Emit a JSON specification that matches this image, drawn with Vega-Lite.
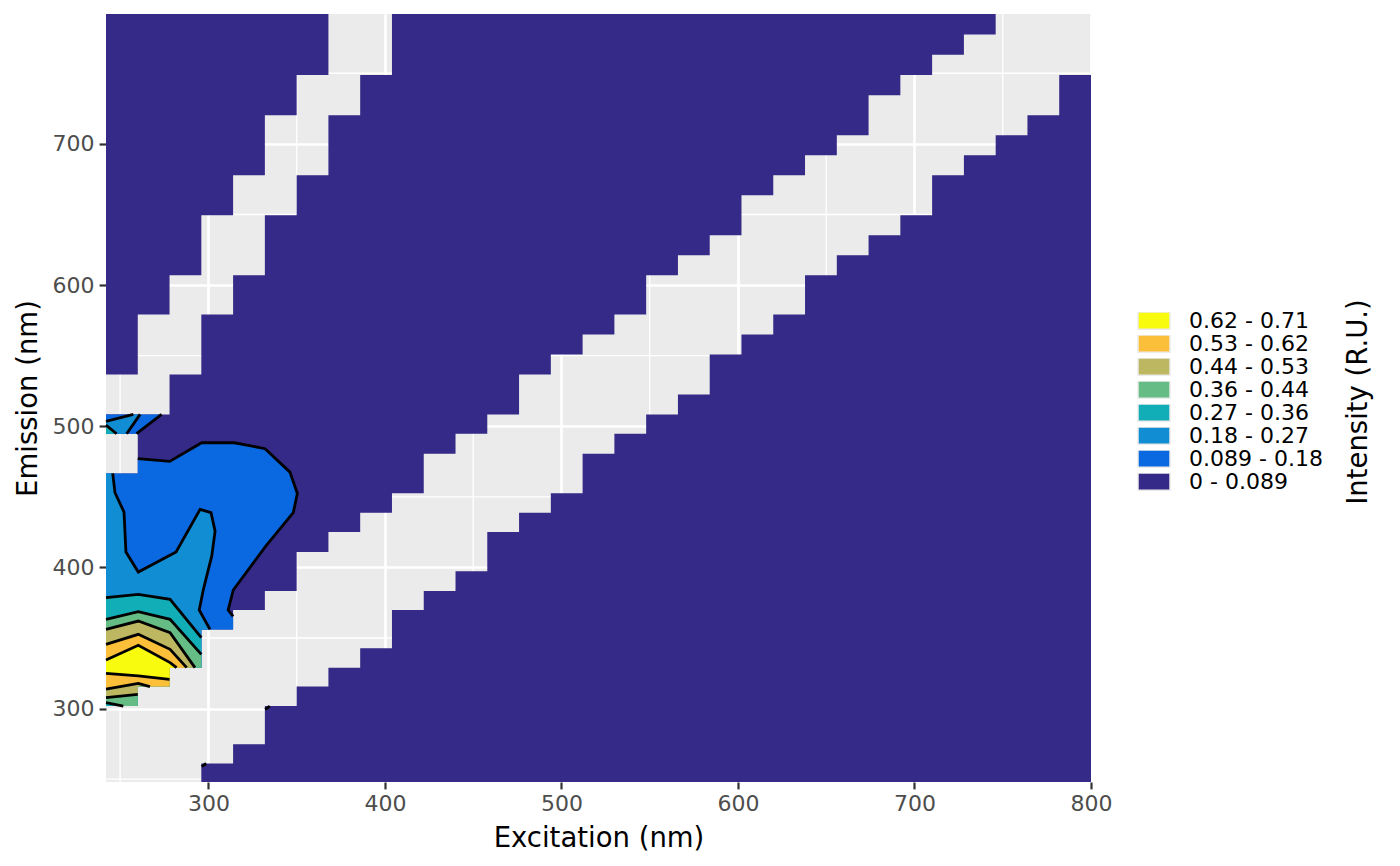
{
  "$schema": "https://vega.github.io/schema/vega-lite/v6.json",
  "width": 985,
  "height": 768,
  "autosize": {"type": "none"},
  "padding": {"left": 106, "top": 14, "right": 309, "bottom": 84},
  "background": "white",
  "config": {
    "view": {"fill": "#EBEBEB", "stroke": null},
    "axis": {
      "domain": false,
      "grid": true,
      "gridColor": "white",
      "gridWidth": 2.7,
      "tickColor": "#333333",
      "tickWidth": 2.2,
      "tickSize": 6.9,
      "labelFont": "DejaVu Sans",
      "labelFontSize": 22,
      "labelColor": "#4D4D4D",
      "labelPadding": 5,
      "labelFlush": false,
      "labelOverlap": false,
      "titleFont": "DejaVu Sans",
      "titleFontSize": 27.5,
      "titleFontWeight": "normal",
      "titleColor": "black",
      "titlePadding": 10
    },
    "axisY": {"titlePadding": 10},
    "legend": {
      "labelFont": "DejaVu Sans",
      "labelFontSize": 22,
      "labelColor": "black",
      "titleFont": "DejaVu Sans",
      "titleFontSize": 27.5,
      "titleFontWeight": "normal",
      "titleColor": "black",
      "titleLimit": 500
    }
  },
  "datasets": {
    "gridx": [{"v": 250}, {"v": 350}, {"v": 450}, {"v": 550}, {"v": 650}, {"v": 750}],
    "gridy": [{"v": 250}, {"v": 350}, {"v": 450}, {"v": 550}, {"v": 650}, {"v": 750}],
    "regions": [
      {"region": "A", "x": 242, "lo": 536.7, "hi": 792, "level": "0 - 0.089"},
      {"region": "A", "x": 260, "lo": 579.2, "hi": 792, "level": "0 - 0.089"},
      {"region": "A", "x": 278, "lo": 607, "hi": 792, "level": "0 - 0.089"},
      {"region": "A", "x": 296, "lo": 649.5, "hi": 792, "level": "0 - 0.089"},
      {"region": "A", "x": 314, "lo": 677.8, "hi": 792, "level": "0 - 0.089"},
      {"region": "A", "x": 332, "lo": 720.2, "hi": 792, "level": "0 - 0.089"},
      {"region": "A", "x": 350, "lo": 748.8, "hi": 792, "level": "0 - 0.089"},
      {"region": "A", "x": 368, "lo": 748.8, "hi": 792, "level": "0 - 0.089"},
      {"region": "B0", "x": 242, "lo": 494.7, "hi": 508.4, "level": "0 - 0.089"},
      {"region": "B0", "x": 260, "lo": 494.7, "hi": 508.4, "level": "0 - 0.089"},
      {"region": "B", "x": 242, "lo": 301.8, "hi": 466.6, "level": "0 - 0.089"},
      {"region": "B", "x": 260, "lo": 315.6, "hi": 508.4, "level": "0 - 0.089"},
      {"region": "B", "x": 278, "lo": 329, "hi": 536.7, "level": "0 - 0.089"},
      {"region": "B", "x": 296, "lo": 356.1, "hi": 579.2, "level": "0 - 0.089"},
      {"region": "B", "x": 314, "lo": 369.8, "hi": 607, "level": "0 - 0.089"},
      {"region": "B", "x": 332, "lo": 383.3, "hi": 649.5, "level": "0 - 0.089"},
      {"region": "B", "x": 350, "lo": 410.9, "hi": 677.8, "level": "0 - 0.089"},
      {"region": "B", "x": 368, "lo": 425, "hi": 720.2, "level": "0 - 0.089"},
      {"region": "B", "x": 386, "lo": 438.8, "hi": 748.8, "level": "0 - 0.089"},
      {"region": "B", "x": 404, "lo": 452.6, "hi": 792, "level": "0 - 0.089"},
      {"region": "B", "x": 422, "lo": 480.5, "hi": 792, "level": "0 - 0.089"},
      {"region": "B", "x": 440, "lo": 494.7, "hi": 792, "level": "0 - 0.089"},
      {"region": "B", "x": 458, "lo": 508.4, "hi": 792, "level": "0 - 0.089"},
      {"region": "B", "x": 476, "lo": 536.7, "hi": 792, "level": "0 - 0.089"},
      {"region": "B", "x": 494, "lo": 550.8, "hi": 792, "level": "0 - 0.089"},
      {"region": "B", "x": 512, "lo": 565, "hi": 792, "level": "0 - 0.089"},
      {"region": "B", "x": 530, "lo": 579.2, "hi": 792, "level": "0 - 0.089"},
      {"region": "B", "x": 548, "lo": 607, "hi": 792, "level": "0 - 0.089"},
      {"region": "B", "x": 566, "lo": 621.1, "hi": 792, "level": "0 - 0.089"},
      {"region": "B", "x": 584, "lo": 635.3, "hi": 792, "level": "0 - 0.089"},
      {"region": "B", "x": 602, "lo": 663.6, "hi": 792, "level": "0 - 0.089"},
      {"region": "B", "x": 620, "lo": 677.8, "hi": 792, "level": "0 - 0.089"},
      {"region": "B", "x": 638, "lo": 691.9, "hi": 792, "level": "0 - 0.089"},
      {"region": "B", "x": 656, "lo": 706.1, "hi": 792, "level": "0 - 0.089"},
      {"region": "B", "x": 674, "lo": 734.4, "hi": 792, "level": "0 - 0.089"},
      {"region": "B", "x": 692, "lo": 748.8, "hi": 792, "level": "0 - 0.089"},
      {"region": "B", "x": 710, "lo": 763.2, "hi": 792, "level": "0 - 0.089"},
      {"region": "B", "x": 728, "lo": 777.4, "hi": 792, "level": "0 - 0.089"},
      {"region": "B", "x": 746, "lo": 777.4, "hi": 792, "level": "0 - 0.089"},
      {"region": "C", "x": 296, "lo": 248, "hi": 261.1, "level": "0 - 0.089"},
      {"region": "C", "x": 314, "lo": 248, "hi": 274.7, "level": "0 - 0.089"},
      {"region": "C", "x": 332, "lo": 248, "hi": 301.8, "level": "0 - 0.089"},
      {"region": "C", "x": 350, "lo": 248, "hi": 315.6, "level": "0 - 0.089"},
      {"region": "C", "x": 368, "lo": 248, "hi": 329, "level": "0 - 0.089"},
      {"region": "C", "x": 386, "lo": 248, "hi": 342.7, "level": "0 - 0.089"},
      {"region": "C", "x": 404, "lo": 248, "hi": 369.8, "level": "0 - 0.089"},
      {"region": "C", "x": 422, "lo": 248, "hi": 383.3, "level": "0 - 0.089"},
      {"region": "C", "x": 440, "lo": 248, "hi": 397.2, "level": "0 - 0.089"},
      {"region": "C", "x": 458, "lo": 248, "hi": 425, "level": "0 - 0.089"},
      {"region": "C", "x": 476, "lo": 248, "hi": 438.8, "level": "0 - 0.089"},
      {"region": "C", "x": 494, "lo": 248, "hi": 452.6, "level": "0 - 0.089"},
      {"region": "C", "x": 512, "lo": 248, "hi": 480.5, "level": "0 - 0.089"},
      {"region": "C", "x": 530, "lo": 248, "hi": 494.7, "level": "0 - 0.089"},
      {"region": "C", "x": 548, "lo": 248, "hi": 508.4, "level": "0 - 0.089"},
      {"region": "C", "x": 566, "lo": 248, "hi": 522.5, "level": "0 - 0.089"},
      {"region": "C", "x": 584, "lo": 248, "hi": 550.8, "level": "0 - 0.089"},
      {"region": "C", "x": 602, "lo": 248, "hi": 565, "level": "0 - 0.089"},
      {"region": "C", "x": 620, "lo": 248, "hi": 579.2, "level": "0 - 0.089"},
      {"region": "C", "x": 638, "lo": 248, "hi": 607, "level": "0 - 0.089"},
      {"region": "C", "x": 656, "lo": 248, "hi": 621.1, "level": "0 - 0.089"},
      {"region": "C", "x": 674, "lo": 248, "hi": 635.3, "level": "0 - 0.089"},
      {"region": "C", "x": 692, "lo": 248, "hi": 649.5, "level": "0 - 0.089"},
      {"region": "C", "x": 710, "lo": 248, "hi": 677.8, "level": "0 - 0.089"},
      {"region": "C", "x": 728, "lo": 248, "hi": 691.9, "level": "0 - 0.089"},
      {"region": "C", "x": 746, "lo": 248, "hi": 706.1, "level": "0 - 0.089"},
      {"region": "C", "x": 764, "lo": 248, "hi": 720.2, "level": "0 - 0.089"},
      {"region": "C", "x": 782, "lo": 248, "hi": 748.8, "level": "0 - 0.089"},
      {"region": "C", "x": 800, "lo": 248, "hi": 748.8, "level": "0 - 0.089"}
    ],
    "polys": [
      {"poly": "p1", "level": "0.089 - 0.18", "i": 0, "ex": 260, "em": 477},
      {"poly": "p1", "level": "0.089 - 0.18", "i": 1, "ex": 278.1, "em": 475.1},
      {"poly": "p1", "level": "0.089 - 0.18", "i": 2, "ex": 296.2, "em": 488.3},
      {"poly": "p1", "level": "0.089 - 0.18", "i": 3, "ex": 314.7, "em": 488.3},
      {"poly": "p1", "level": "0.089 - 0.18", "i": 4, "ex": 332.1, "em": 484.1},
      {"poly": "p1", "level": "0.089 - 0.18", "i": 5, "ex": 346.2, "em": 467.5},
      {"poly": "p1", "level": "0.089 - 0.18", "i": 6, "ex": 350.4, "em": 452.4},
      {"poly": "p1", "level": "0.089 - 0.18", "i": 7, "ex": 348.1, "em": 438.8},
      {"poly": "p1", "level": "0.089 - 0.18", "i": 8, "ex": 332.5, "em": 415.1},
      {"poly": "p1", "level": "0.089 - 0.18", "i": 9, "ex": 314.1, "em": 384},
      {"poly": "p1", "level": "0.089 - 0.18", "i": 10, "ex": 311.2, "em": 369.8},
      {"poly": "p1", "level": "0.089 - 0.18", "i": 11, "ex": 314, "em": 365.3},
      {"poly": "p1", "level": "0.089 - 0.18", "i": 12, "ex": 314, "em": 356.1},
      {"poly": "p1", "level": "0.089 - 0.18", "i": 13, "ex": 296, "em": 356.1},
      {"poly": "p1", "level": "0.089 - 0.18", "i": 14, "ex": 296, "em": 329},
      {"poly": "p1", "level": "0.089 - 0.18", "i": 15, "ex": 278, "em": 329},
      {"poly": "p1", "level": "0.089 - 0.18", "i": 16, "ex": 278, "em": 315.6},
      {"poly": "p1", "level": "0.089 - 0.18", "i": 17, "ex": 260, "em": 315.6},
      {"poly": "p1", "level": "0.089 - 0.18", "i": 18, "ex": 260, "em": 301.8},
      {"poly": "p1", "level": "0.089 - 0.18", "i": 19, "ex": 242, "em": 301.8},
      {"poly": "p1", "level": "0.089 - 0.18", "i": 20, "ex": 242, "em": 466.6},
      {"poly": "p1", "level": "0.089 - 0.18", "i": 21, "ex": 260, "em": 466.6},
      {"poly": "p2", "level": "0.18 - 0.27", "i": 0, "ex": 245.8, "em": 466.6},
      {"poly": "p2", "level": "0.18 - 0.27", "i": 1, "ex": 247.1, "em": 452.9},
      {"poly": "p2", "level": "0.18 - 0.27", "i": 2, "ex": 252.2, "em": 439.2},
      {"poly": "p2", "level": "0.18 - 0.27", "i": 3, "ex": 253.3, "em": 410.9},
      {"poly": "p2", "level": "0.18 - 0.27", "i": 4, "ex": 260.3, "em": 396.7},
      {"poly": "p2", "level": "0.18 - 0.27", "i": 5, "ex": 281.7, "em": 410.9},
      {"poly": "p2", "level": "0.18 - 0.27", "i": 6, "ex": 295.3, "em": 441.1},
      {"poly": "p2", "level": "0.18 - 0.27", "i": 7, "ex": 301.5, "em": 438.8},
      {"poly": "p2", "level": "0.18 - 0.27", "i": 8, "ex": 303.8, "em": 425.7},
      {"poly": "p2", "level": "0.18 - 0.27", "i": 9, "ex": 301.9, "em": 408},
      {"poly": "p2", "level": "0.18 - 0.27", "i": 10, "ex": 300, "em": 398.6},
      {"poly": "p2", "level": "0.18 - 0.27", "i": 11, "ex": 297.1, "em": 384},
      {"poly": "p2", "level": "0.18 - 0.27", "i": 12, "ex": 294.8, "em": 369.8},
      {"poly": "p2", "level": "0.18 - 0.27", "i": 13, "ex": 300.9, "em": 356.1},
      {"poly": "p2", "level": "0.18 - 0.27", "i": 14, "ex": 296, "em": 356.1},
      {"poly": "p2", "level": "0.18 - 0.27", "i": 15, "ex": 296, "em": 329},
      {"poly": "p2", "level": "0.18 - 0.27", "i": 16, "ex": 278, "em": 329},
      {"poly": "p2", "level": "0.18 - 0.27", "i": 17, "ex": 278, "em": 315.6},
      {"poly": "p2", "level": "0.18 - 0.27", "i": 18, "ex": 260, "em": 315.6},
      {"poly": "p2", "level": "0.18 - 0.27", "i": 19, "ex": 260, "em": 301.8},
      {"poly": "p2", "level": "0.18 - 0.27", "i": 20, "ex": 242, "em": 301.8},
      {"poly": "p2", "level": "0.18 - 0.27", "i": 21, "ex": 242, "em": 466.6},
      {"poly": "p3", "level": "0.27 - 0.36", "i": 0, "ex": 242, "em": 378.6},
      {"poly": "p3", "level": "0.27 - 0.36", "i": 1, "ex": 260.3, "em": 380.9},
      {"poly": "p3", "level": "0.27 - 0.36", "i": 2, "ex": 278.3, "em": 377.4},
      {"poly": "p3", "level": "0.27 - 0.36", "i": 3, "ex": 296, "em": 350.3},
      {"poly": "p3", "level": "0.27 - 0.36", "i": 4, "ex": 296, "em": 329},
      {"poly": "p3", "level": "0.27 - 0.36", "i": 5, "ex": 278, "em": 329},
      {"poly": "p3", "level": "0.27 - 0.36", "i": 6, "ex": 278, "em": 315.6},
      {"poly": "p3", "level": "0.27 - 0.36", "i": 7, "ex": 260, "em": 315.6},
      {"poly": "p3", "level": "0.27 - 0.36", "i": 8, "ex": 260, "em": 301.8},
      {"poly": "p3", "level": "0.27 - 0.36", "i": 9, "ex": 242, "em": 301.8},
      {"poly": "p4", "level": "0.36 - 0.44", "i": 0, "ex": 242, "em": 363.2},
      {"poly": "p4", "level": "0.36 - 0.44", "i": 1, "ex": 260.3, "em": 368.7},
      {"poly": "p4", "level": "0.36 - 0.44", "i": 2, "ex": 278.3, "em": 363.2},
      {"poly": "p4", "level": "0.36 - 0.44", "i": 3, "ex": 296, "em": 338.4},
      {"poly": "p4", "level": "0.36 - 0.44", "i": 4, "ex": 296, "em": 329},
      {"poly": "p4", "level": "0.36 - 0.44", "i": 5, "ex": 278, "em": 329},
      {"poly": "p4", "level": "0.36 - 0.44", "i": 6, "ex": 278, "em": 315.6},
      {"poly": "p4", "level": "0.36 - 0.44", "i": 7, "ex": 260, "em": 315.6},
      {"poly": "p4", "level": "0.36 - 0.44", "i": 8, "ex": 260, "em": 301.8},
      {"poly": "p4", "level": "0.36 - 0.44", "i": 9, "ex": 251.8, "em": 301.8},
      {"poly": "p4", "level": "0.36 - 0.44", "i": 10, "ex": 242, "em": 304.2},
      {"poly": "p5", "level": "0.44 - 0.53", "i": 0, "ex": 242, "em": 356.1},
      {"poly": "p5", "level": "0.44 - 0.53", "i": 1, "ex": 260.3, "em": 362},
      {"poly": "p5", "level": "0.44 - 0.53", "i": 2, "ex": 278.3, "em": 353.8},
      {"poly": "p5", "level": "0.44 - 0.53", "i": 3, "ex": 292.4, "em": 329},
      {"poly": "p5", "level": "0.44 - 0.53", "i": 4, "ex": 278, "em": 329},
      {"poly": "p5", "level": "0.44 - 0.53", "i": 5, "ex": 278, "em": 315.6},
      {"poly": "p5", "level": "0.44 - 0.53", "i": 6, "ex": 260, "em": 315.6},
      {"poly": "p5", "level": "0.44 - 0.53", "i": 7, "ex": 260, "em": 310.1},
      {"poly": "p5", "level": "0.44 - 0.53", "i": 8, "ex": 242, "em": 307.8},
      {"poly": "p6", "level": "0.53 - 0.62", "i": 0, "ex": 242, "em": 345.5},
      {"poly": "p6", "level": "0.53 - 0.62", "i": 1, "ex": 260.3, "em": 352.6},
      {"poly": "p6", "level": "0.53 - 0.62", "i": 2, "ex": 278.3, "em": 342},
      {"poly": "p6", "level": "0.53 - 0.62", "i": 3, "ex": 287.7, "em": 329},
      {"poly": "p6", "level": "0.53 - 0.62", "i": 4, "ex": 278, "em": 329},
      {"poly": "p6", "level": "0.53 - 0.62", "i": 5, "ex": 278, "em": 315.6},
      {"poly": "p6", "level": "0.53 - 0.62", "i": 6, "ex": 266.9, "em": 315.6},
      {"poly": "p6", "level": "0.53 - 0.62", "i": 7, "ex": 260.3, "em": 317.9},
      {"poly": "p6", "level": "0.53 - 0.62", "i": 8, "ex": 242, "em": 313.7},
      {"poly": "p7", "level": "0.62 - 0.71", "i": 0, "ex": 242, "em": 334.4},
      {"poly": "p7", "level": "0.62 - 0.71", "i": 1, "ex": 260.3, "em": 344.8},
      {"poly": "p7", "level": "0.62 - 0.71", "i": 2, "ex": 278.3, "em": 332.6},
      {"poly": "p7", "level": "0.62 - 0.71", "i": 3, "ex": 282, "em": 329},
      {"poly": "p7", "level": "0.62 - 0.71", "i": 4, "ex": 278, "em": 329},
      {"poly": "p7", "level": "0.62 - 0.71", "i": 5, "ex": 278, "em": 320.7},
      {"poly": "p7", "level": "0.62 - 0.71", "i": 6, "ex": 260.3, "em": 323.1},
      {"poly": "p7", "level": "0.62 - 0.71", "i": 7, "ex": 242, "em": 325},
      {"poly": "p8", "level": "0.089 - 0.18", "i": 0, "ex": 242, "em": 494.7},
      {"poly": "p8", "level": "0.089 - 0.18", "i": 1, "ex": 259.3, "em": 494.7},
      {"poly": "p8", "level": "0.089 - 0.18", "i": 2, "ex": 273.5, "em": 508.4},
      {"poly": "p8", "level": "0.089 - 0.18", "i": 3, "ex": 242, "em": 508.4},
      {"poly": "p9", "level": "0.18 - 0.27", "i": 0, "ex": 242, "em": 494.7},
      {"poly": "p9", "level": "0.18 - 0.27", "i": 1, "ex": 253.7, "em": 494.7},
      {"poly": "p9", "level": "0.18 - 0.27", "i": 2, "ex": 261.3, "em": 508.4},
      {"poly": "p9", "level": "0.18 - 0.27", "i": 3, "ex": 257.5, "em": 508.4},
      {"poly": "p9", "level": "0.18 - 0.27", "i": 4, "ex": 242, "em": 503.5},
      {"poly": "pa", "level": "0.27 - 0.36", "i": 0, "ex": 242, "em": 494.7},
      {"poly": "pa", "level": "0.27 - 0.36", "i": 1, "ex": 248, "em": 494.7},
      {"poly": "pa", "level": "0.27 - 0.36", "i": 2, "ex": 242, "em": 500.8}
    ],
    "lines": [
      {"line": "L1", "i": 0, "ex": 260, "em": 477},
      {"line": "L1", "i": 1, "ex": 278.1, "em": 475.1},
      {"line": "L1", "i": 2, "ex": 296.2, "em": 488.3},
      {"line": "L1", "i": 3, "ex": 314.7, "em": 488.3},
      {"line": "L1", "i": 4, "ex": 332.1, "em": 484.1},
      {"line": "L1", "i": 5, "ex": 346.2, "em": 467.5},
      {"line": "L1", "i": 6, "ex": 350.4, "em": 452.4},
      {"line": "L1", "i": 7, "ex": 348.1, "em": 438.8},
      {"line": "L1", "i": 8, "ex": 332.5, "em": 415.1},
      {"line": "L1", "i": 9, "ex": 314.1, "em": 384},
      {"line": "L1", "i": 10, "ex": 311.2, "em": 369.8},
      {"line": "L1", "i": 11, "ex": 314, "em": 365.3},
      {"line": "L2", "i": 0, "ex": 245.8, "em": 466.6},
      {"line": "L2", "i": 1, "ex": 247.1, "em": 452.9},
      {"line": "L2", "i": 2, "ex": 252.2, "em": 439.2},
      {"line": "L2", "i": 3, "ex": 253.3, "em": 410.9},
      {"line": "L2", "i": 4, "ex": 260.3, "em": 396.7},
      {"line": "L2", "i": 5, "ex": 281.7, "em": 410.9},
      {"line": "L2", "i": 6, "ex": 295.3, "em": 441.1},
      {"line": "L2", "i": 7, "ex": 301.5, "em": 438.8},
      {"line": "L2", "i": 8, "ex": 303.8, "em": 425.7},
      {"line": "L2", "i": 9, "ex": 301.9, "em": 408},
      {"line": "L2", "i": 10, "ex": 300, "em": 398.6},
      {"line": "L2", "i": 11, "ex": 297.1, "em": 384},
      {"line": "L2", "i": 12, "ex": 294.8, "em": 369.8},
      {"line": "L2", "i": 13, "ex": 300.9, "em": 356.1},
      {"line": "L3", "i": 0, "ex": 242, "em": 378.6},
      {"line": "L3", "i": 1, "ex": 260.3, "em": 380.9},
      {"line": "L3", "i": 2, "ex": 278.3, "em": 377.4},
      {"line": "L3", "i": 3, "ex": 296, "em": 350.3},
      {"line": "L4a", "i": 0, "ex": 242, "em": 363.2},
      {"line": "L4a", "i": 1, "ex": 260.3, "em": 368.7},
      {"line": "L4a", "i": 2, "ex": 278.3, "em": 363.2},
      {"line": "L4a", "i": 3, "ex": 296, "em": 338.4},
      {"line": "L4b", "i": 0, "ex": 251.8, "em": 301.8},
      {"line": "L4b", "i": 1, "ex": 242, "em": 304.2},
      {"line": "L5a", "i": 0, "ex": 242, "em": 356.1},
      {"line": "L5a", "i": 1, "ex": 260.3, "em": 362},
      {"line": "L5a", "i": 2, "ex": 278.3, "em": 353.8},
      {"line": "L5a", "i": 3, "ex": 292.4, "em": 329},
      {"line": "L5b", "i": 0, "ex": 260, "em": 310.1},
      {"line": "L5b", "i": 1, "ex": 242, "em": 307.8},
      {"line": "L6a", "i": 0, "ex": 242, "em": 345.5},
      {"line": "L6a", "i": 1, "ex": 260.3, "em": 352.6},
      {"line": "L6a", "i": 2, "ex": 278.3, "em": 342},
      {"line": "L6a", "i": 3, "ex": 287.7, "em": 329},
      {"line": "L6b", "i": 0, "ex": 266.9, "em": 315.6},
      {"line": "L6b", "i": 1, "ex": 260.3, "em": 317.9},
      {"line": "L6b", "i": 2, "ex": 242, "em": 313.7},
      {"line": "L7a", "i": 0, "ex": 242, "em": 334.4},
      {"line": "L7a", "i": 1, "ex": 260.3, "em": 344.8},
      {"line": "L7a", "i": 2, "ex": 278.3, "em": 332.6},
      {"line": "L7a", "i": 3, "ex": 282, "em": 329},
      {"line": "L7b", "i": 0, "ex": 278, "em": 320.7},
      {"line": "L7b", "i": 1, "ex": 260.3, "em": 323.1},
      {"line": "L7b", "i": 2, "ex": 242, "em": 325},
      {"line": "F1", "i": 0, "ex": 242, "em": 503.5},
      {"line": "F1", "i": 1, "ex": 257.5, "em": 508.4},
      {"line": "F2", "i": 0, "ex": 253.7, "em": 494.7},
      {"line": "F2", "i": 1, "ex": 261.3, "em": 508.4},
      {"line": "F3", "i": 0, "ex": 259.3, "em": 494.7},
      {"line": "F3", "i": 1, "ex": 273.5, "em": 508.4},
      {"line": "F4", "i": 0, "ex": 242, "em": 500.8},
      {"line": "F4", "i": 1, "ex": 248, "em": 494.7},
      {"line": "S1", "i": 0, "ex": 296.2, "em": 258.9},
      {"line": "S1", "i": 1, "ex": 298.7, "em": 261.1},
      {"line": "S2", "i": 0, "ex": 332.2, "em": 299.4},
      {"line": "S2", "i": 1, "ex": 334.8, "em": 301.8}
    ]
  },
  "layer": [
    {
      "data": {"name": "gridx"},
      "mark": {"type": "rule", "color": "white", "strokeWidth": 1.35},
      "encoding": {
        "x": {"field": "v", "type": "quantitative", "title": "Excitation (nm)",
              "scale": {"domain": [242, 800], "nice": false, "zero": false},
              "axis": {"values": [300, 400, 500, 600, 700, 800], "title": "Excitation (nm)"}}
      }
    },
    {
      "data": {"name": "gridy"},
      "mark": {"type": "rule", "color": "white", "strokeWidth": 1.35},
      "encoding": {
        "y": {"field": "v", "type": "quantitative", "title": "Emission (nm)",
              "scale": {"domain": [248, 792], "nice": false, "zero": false},
              "axis": {"values": [300, 400, 500, 600, 700], "title": "Emission (nm)"}}
      }
    },
    {
      "data": {"name": "regions"},
      "mark": {"type": "area", "interpolate": "step-after"},
      "encoding": {
        "x": {"field": "x", "type": "quantitative", "title": "Excitation (nm)"},
        "y": {"field": "lo", "type": "quantitative", "title": "Emission (nm)", "stack": null},
        "y2": {"field": "hi"},
        "detail": {"field": "region"},
        "fill": {
          "field": "level", "type": "nominal",
          "scale": {
            "domain": ["0.62 - 0.71", "0.53 - 0.62", "0.44 - 0.53", "0.36 - 0.44", "0.27 - 0.36", "0.18 - 0.27", "0.089 - 0.18", "0 - 0.089"],
            "range": ["#F9FB0E", "#FCBF3A", "#BDB762", "#65BD85", "#12AEB7", "#118DD4", "#0A68E0", "#352A87"]
          },
          "legend": {
            "title": "Intensity (R.U.)",
            "orient": "none",
            "direction": "vertical",
            "legendX": 1031,
            "legendY": 298,
            "padding": 0,
            "titleOrient": "right",
            "titleAnchor": "middle",
            "titleAlign": "center",
            "titlePadding": 36,
            "titleLimit": 500,
            "symbolType": "M-1,-0.54H1V0.54H-1Z",
            "symbolSize": 1024,
            "symbolStrokeColor": "#EBEBEB",
            "symbolStrokeWidth": 1.5,
            "symbolOpacity": 1,
            "labelOffset": 18,
            "clipHeight": 17.4,
            "rowPadding": 0,
            "encoding": {"title": {"angle": {"value": 270}, "align": {"value": "center"}}}
          }
        }
      }
    },
    {
      "data": {"name": "polys"},
      "mark": {"type": "line", "strokeWidth": 0, "interpolate": "linear"},
      "encoding": {
        "x": {"field": "ex", "type": "quantitative", "title": "Excitation (nm)"},
        "y": {"field": "em", "type": "quantitative", "title": "Emission (nm)"},
        "fill": {"field": "level", "type": "nominal"},
        "detail": {"field": "poly"},
        "order": {"field": "i", "type": "quantitative"}
      }
    },
    {
      "data": {"name": "lines"},
      "mark": {"type": "line", "color": "black", "strokeWidth": 2.8},
      "encoding": {
        "x": {"field": "ex", "type": "quantitative", "title": "Excitation (nm)"},
        "y": {"field": "em", "type": "quantitative", "title": "Emission (nm)"},
        "detail": {"field": "line"},
        "order": {"field": "i", "type": "quantitative"}
      }
    }
  ]
}
